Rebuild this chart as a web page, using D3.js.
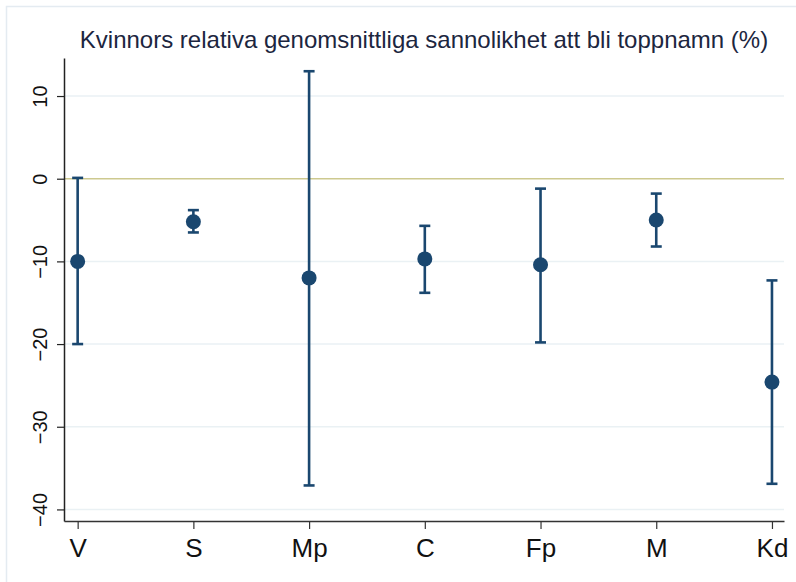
<!DOCTYPE html>
<html>
<head>
<meta charset="utf-8">
<script src="https://cdn.jsdelivr.net/npm/d3@7"></script>
<style>
  body { margin: 0; background: #fff; }
  text { font-family: "Liberation Sans", Arial, sans-serif; }
</style>
</head>
<body>
<div id="chart"></div>
<script>
// party estimates with confidence intervals (%)
const parties = ["V", "S", "Mp", "C", "Fp", "M", "Kd"];
const estimates = [-10.0, -5.2, -12.0, -9.7, -10.4, -5.0, -24.6];
const lower = [-20.0, -6.5, -37.1, -13.8, -19.8, -8.2, -36.9];
const upper = [0.1, -3.8, 13.0, -5.7, -1.2, -1.8, -12.3];
const yTicks = [10, 0, -10, -20, -30, -40];
const title = "Kvinnors relativa genomsnittliga sannolikhet att bli toppnamn (%)";

const width = 796, height = 582;
const margin = { top: 58, right: 12, bottom: 61, left: 64 };
const navy = "#1a476f";

const svg = d3.select("#chart").append("svg")
    .attr("width", width)
    .attr("height", height);

// outer graph region frame
svg.append("rect")
    .attr("x", 6.5).attr("y", 6.5)
    .attr("width", 800).attr("height", 600)
    .attr("fill", "none")
    .attr("stroke", "#e4ebf1")
    .attr("stroke-width", 1.5);

const x = d3.scaleLinear()
    .domain([0.882, 7.104])
    .range([margin.left, width - margin.right]);

const y = d3.scaleLinear()
    .domain([-41.4, 14.6])
    .range([height - margin.bottom, margin.top]);

// gridlines
svg.append("g")
    .selectAll("line")
    .data(yTicks.filter(d => d !== 0))
    .join("line")
    .attr("x1", margin.left).attr("x2", width - margin.right)
    .attr("y1", d => y(d)).attr("y2", d => y(d))
    .attr("stroke", "#eaf1f4")
    .attr("stroke-width", 1.5);

// zero reference line
svg.append("line")
    .attr("x1", margin.left).attr("x2", width - margin.right)
    .attr("y1", y(0)).attr("y2", y(0))
    .attr("stroke", "#cdc98f")
    .attr("stroke-width", 1.5);

// y axis
const yAxis = svg.append("g")
    .attr("transform", `translate(${margin.left},0)`)
    .call(d3.axisLeft(y).tickValues(yTicks).tickSize(7).tickPadding(0).tickSizeOuter(0));
yAxis.select(".domain").attr("stroke", "#222").attr("stroke-width", 1.5);
yAxis.selectAll(".tick line").attr("stroke", "#222").attr("stroke-width", 1.2);
yAxis.selectAll(".tick text")
    .attr("transform", "rotate(-90)")
    .attr("x", 0).attr("y", -17).attr("dy", 0)
    .attr("text-anchor", "middle")
    .style("font-size", "20px")
    .attr("fill", "#111");

// x axis
const xAxis = svg.append("g")
    .attr("transform", `translate(0,${height - margin.bottom})`)
    .call(d3.axisBottom(x)
        .tickValues(d3.range(1, parties.length + 1))
        .tickFormat(d => parties[d - 1])
        .tickSize(8).tickPadding(10).tickSizeOuter(0));
xAxis.select(".domain").attr("stroke", "#333").attr("stroke-width", 1.5);
xAxis.selectAll(".tick line").attr("stroke", "#333").attr("stroke-width", 1.2);
xAxis.selectAll(".tick text")
    .style("font-size", "26px")
    .attr("fill", "#111");

// error bars
const bars = svg.append("g")
    .selectAll("g")
    .data(parties.map((p, i) => ({ p, i: i + 1, est: estimates[i], lo: lower[i], hi: upper[i] })))
    .join("g")
    .attr("stroke", navy)
    .attr("stroke-width", 2.6);

bars.append("line")
    .attr("x1", d => x(d.i)).attr("x2", d => x(d.i))
    .attr("y1", d => y(d.lo)).attr("y2", d => y(d.hi));

const capW = 5.5;
bars.append("line")
    .attr("x1", d => x(d.i) - capW).attr("x2", d => x(d.i) + capW)
    .attr("y1", d => y(d.hi)).attr("y2", d => y(d.hi));
bars.append("line")
    .attr("x1", d => x(d.i) - capW).attr("x2", d => x(d.i) + capW)
    .attr("y1", d => y(d.lo)).attr("y2", d => y(d.lo));

bars.append("circle")
    .attr("cx", d => x(d.i))
    .attr("cy", d => y(d.est))
    .attr("r", 7.5)
    .attr("fill", navy)
    .attr("stroke", "none");

// title
svg.append("text")
    .attr("x", (margin.left + width - margin.right) / 2)
    .attr("y", 48)
    .attr("text-anchor", "middle")
    .style("font-size", "24px")
    .attr("fill", "#1c2640")
    .text(title);
</script>
</body>
</html>
